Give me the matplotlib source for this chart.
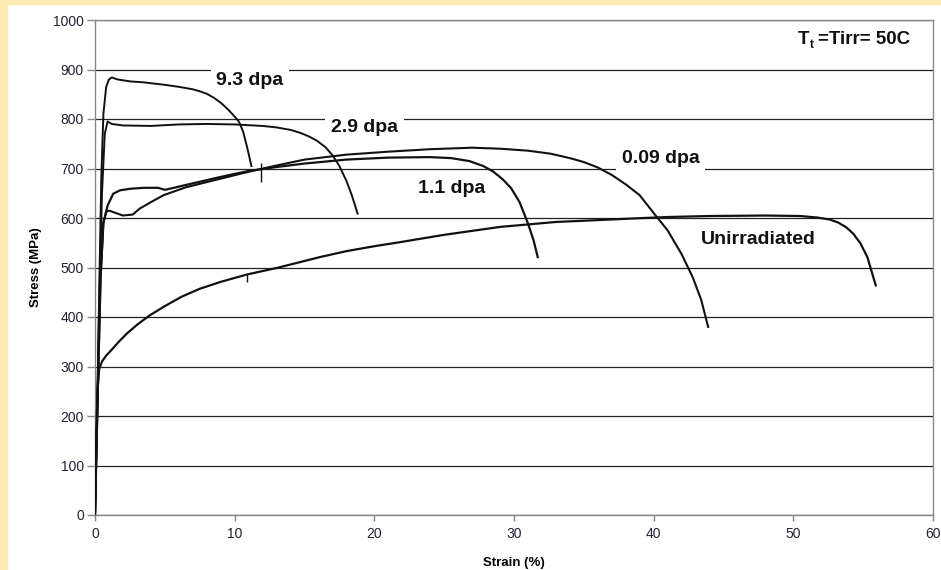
import matplotlib
matplotlib.use("Agg")
from matplotlib import pyplot as plt
from matplotlib.patches import Rectangle

plt.rcParams['font.family'] = ['Liberation Sans', 'DejaVu Sans']

# stress-strain curves (strain in %, stress in MPa)
strain_93 = [0, 0.15, 0.3, 0.45, 0.6, 0.8, 1.0, 1.2, 1.6, 2.5, 3.5, 5.0, 6.0, 7.0, 7.5, 8.0, 8.5, 9.0, 9.5,
             9.9, 10.3, 10.6, 10.9, 11.2]
stress_93 = [0, 200, 450, 680, 810, 865, 880, 884, 880, 876, 874, 869, 865, 860, 856, 851, 843, 833, 820,
             808, 795, 775, 742, 705]

strain_29 = [0, 0.15, 0.3, 0.5, 0.7, 0.9, 1.2, 2.0, 4.0, 6.0, 8.0, 10.0, 12.0, 13.0, 14.0, 14.7, 15.3, 15.9,
             16.5, 17.0, 17.5, 18.0, 18.4, 18.8]
stress_29 = [0, 200, 430, 650, 770, 795, 790, 787, 786, 789, 790, 789, 786, 783, 778, 772, 765, 756,
             743, 727, 705, 675, 645, 609]

strain_11 = [0, 0.2, 0.4, 0.6, 0.9, 1.3, 1.8, 2.5, 3.5, 4.5, 5.0, 5.5, 7.0, 9.0, 11.0, 13.0, 15.0, 18.0, 21.0, 24.0,
             25.5, 26.8, 27.8, 28.5, 29.2, 29.8, 30.4, 31.0, 31.4, 31.7]
stress_11 = [0, 250, 480, 590, 625, 649, 656, 659, 661, 661, 657, 660, 670, 683, 695, 703, 710, 718, 722, 723,
             721, 715, 705, 694, 678, 660, 632, 589, 555, 521]

strain_009 = [0, 0.2, 0.4, 0.6, 0.8, 1.0, 1.5, 2.0, 2.7, 3.2, 4.0, 4.9, 6.5, 8.5, 10.5, 12.5, 15.0, 18.0, 21.0, 24.0,
              27.0, 29.0, 31.0, 32.6, 34.0, 35.0, 36.0, 37.0, 38.0, 39.0, 40.0, 41.0, 42.0, 42.8, 43.4, 43.9]
stress_009 = [0, 250, 480, 590, 612, 615, 610, 605, 607, 619, 632, 646, 662, 676, 690, 703, 718, 728, 734, 739,
              742, 740, 736, 730, 721, 713, 702, 687, 668, 646, 610, 575, 527, 480, 435, 380]

strain_unirr = [0, 0.05, 0.12, 0.2, 0.3, 0.5, 0.8, 1.2, 1.7, 2.3, 3.0, 3.9, 5.0, 6.2, 7.5, 9.0, 10.9, 13.0, 14.7,
                16.1, 18.0, 20.0, 21.8, 25.0, 29.0, 33.0, 36.2, 38.5, 41.0, 44.0, 48.0, 50.5, 51.7, 52.6, 53.2,
                53.8, 54.3, 54.8, 55.3, 55.9]
stress_unirr = [0, 100, 200, 260, 295, 310, 322, 334, 350, 367, 384, 403, 422, 441, 457, 471, 486, 499, 511,
                521, 533, 543, 551, 566, 582, 592, 596, 599, 602, 604, 605, 604, 601, 597, 591,
                581, 568, 549, 521, 464]

# small marks on the curves
mark_x = [11.9, 10.9]
mark_lo = [673, 470]
mark_hi = [712, 487]

labels = ["9.3 dpa", "2.9 dpa", "1.1 dpa", "0.09 dpa", "Unirradiated"]
label_x = [11.1, 19.3, 25.5, 40.5, 47.5]
label_y = [877, 783, 660, 720, 557]

fig = plt.figure(figsize=(9.41, 5.70), dpi=100)
fig.patch.set_facecolor('white')
fig.patches.append(Rectangle((0, 0), 7 / 941, 1, transform=fig.transFigure, color='#FFEBB3', zorder=0))
fig.patches.append(Rectangle((0, 1 - 3.5 / 570), 1, 3.5 / 570, transform=fig.transFigure, color='#FFEBB3', zorder=0))

ax = fig.add_axes([95 / 941, 55 / 570, 838 / 941, 495 / 570])

ax.plot(strain_unirr, stress_unirr, color='#111111', lw=1.6, zorder=3)
ax.plot(strain_009, stress_009, color='#111111', lw=1.5, zorder=3)
ax.plot(strain_11, stress_11, color='#111111', lw=1.6, zorder=3)
ax.plot(strain_29, stress_29, color='#111111', lw=1.4, zorder=3)
ax.plot(strain_93, stress_93, color='#111111', lw=1.4, zorder=3)
ax.vlines(mark_x, mark_lo, mark_hi, color='#111111', lw=1.0, zorder=3)

for t, x, y in zip(labels, label_x, label_y):
    ax.text(x, y, t, ha='center', va='center', fontsize=14, fontweight='bold', color='#111111', zorder=4,
            bbox=dict(facecolor='white', edgecolor='none', pad=4))

# T_t =Tirr= 50C, built from pieces so the subscript stays small
ax.text(50.35, 960, "T", ha='left', va='center', fontsize=13.5, fontweight='bold', color='#111111')
ax.text(51.2, 950, "t", ha='left', va='center', fontsize=8.5, fontweight='bold', color='#111111')
ax.text(51.8, 960, "=Tirr= 50C", ha='left', va='center', fontsize=13.5, fontweight='bold', color='#111111')

ax.set_xlim(0, 60)
ax.set_ylim(0, 1000)
ax.set_xticks(range(0, 61, 10))
ax.set_yticks(range(0, 1001, 100))
ax.yaxis.grid(True, color='#222222', lw=0.9)
ax.set_axisbelow(True)

for s in ax.spines.values():
    s.set_color('#888888')
    s.set_linewidth(1.0)

ax.tick_params(axis='y', length=6, width=1, color='#888888', pad=2, labelsize=10, labelcolor='#222233')
ax.tick_params(axis='x', length=4, width=1, color='#888888', pad=5, labelsize=10, labelcolor='#222233')

ax.set_xlabel("Strain (%)", fontsize=9.5, fontweight='bold')
ax.set_ylabel("Stress (MPa)", fontsize=9.5, fontweight='bold')
ax.xaxis.set_label_coords(0.5, -0.085)
ax.yaxis.set_label_coords(-0.063, 0.5)

fig.savefig("out.png", dpi=100)
